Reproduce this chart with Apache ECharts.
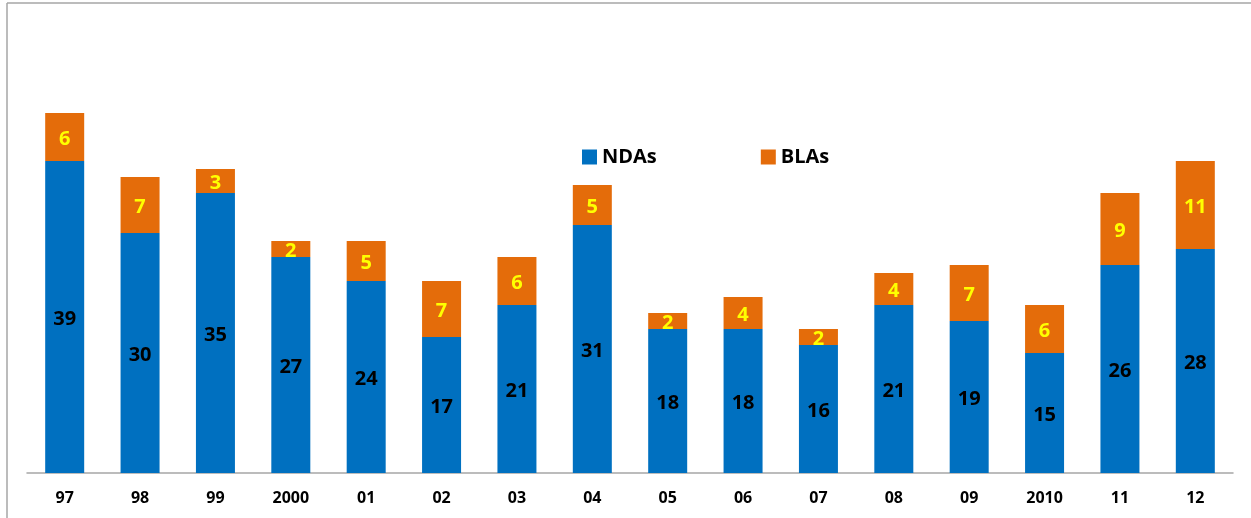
<!DOCTYPE html>
<html>
<head>
<meta charset="utf-8">
<script src="https://cdn.jsdelivr.net/npm/echarts@6/dist/echarts.min.js"></script>
<style>
  html, body { margin: 0; padding: 0; background: #fff; }
  #main { width: 1251px; height: 518px; }
</style>
</head>
<body>
<div id="main"></div>
<script>
// data
var years = ['97', '98', '99', '2000', '01', '02', '03', '04', '05', '06', '07', '08', '09', '2010', '11', '12'];
var ndas = [39, 30, 35, 27, 24, 17, 21, 31, 18, 18, 16, 21, 19, 15, 26, 28];
var blas = [6, 7, 3, 2, 5, 7, 6, 5, 2, 4, 2, 4, 7, 6, 9, 11];

var chart = echarts.init(document.getElementById('main'));
var font = '"Open Sans", "Noto Sans", sans-serif';

var option = {
  animation: false,
  textStyle: { fontFamily: font },
  graphic: [
    // frame lines (top + left)
    { type: 'line', shape: { x1: 7, y1: 3, x2: 1251, y2: 3 }, style: { stroke: '#a6a6a6', lineWidth: 1.5 } },
    { type: 'line', shape: { x1: 7, y1: 3, x2: 7, y2: 518 }, style: { stroke: '#a6a6a6', lineWidth: 1.5 } }
  ],
  legend: {
    data: ['NDAs', 'BLAs'],
    left: 577,
    top: 142,
    itemWidth: 15,
    itemHeight: 15,
    itemGap: 104,
    icon: 'rect',
    textStyle: { fontSize: 20, fontWeight: 'bold', color: '#000', fontFamily: font }
  },
  grid: { left: 27, right: 18, top: 33, bottom: 45 },
  xAxis: {
    type: 'category',
    data: years,
    axisLine: { lineStyle: { color: '#a6a6a6', width: 1.5 } },
    axisTick: { show: false },
    axisLabel: { fontSize: 16, fontWeight: 'bold', color: '#000', margin: 17, fontFamily: font }
  },
  yAxis: {
    type: 'value',
    min: 0,
    max: 55,
    show: false,
    splitLine: { show: false }
  },
  series: [
    {
      name: 'NDAs',
      type: 'bar',
      stack: 'total',
      data: ndas,
      barWidth: 39,
      itemStyle: { color: '#0070C0' },
      label: { show: true, position: 'inside', offset: [0, 2], fontSize: 20, fontWeight: 'bold', color: '#000', fontFamily: font }
    },
    {
      name: 'BLAs',
      type: 'bar',
      stack: 'total',
      data: blas,
      barWidth: 39,
      itemStyle: { color: '#E46C0A' },
      label: { show: true, position: 'inside', offset: [0, 2], fontSize: 20, fontWeight: 'bold', color: '#FFFF00', fontFamily: font }
    }
  ]
};

chart.setOption(option);
</script>
</body>
</html>
